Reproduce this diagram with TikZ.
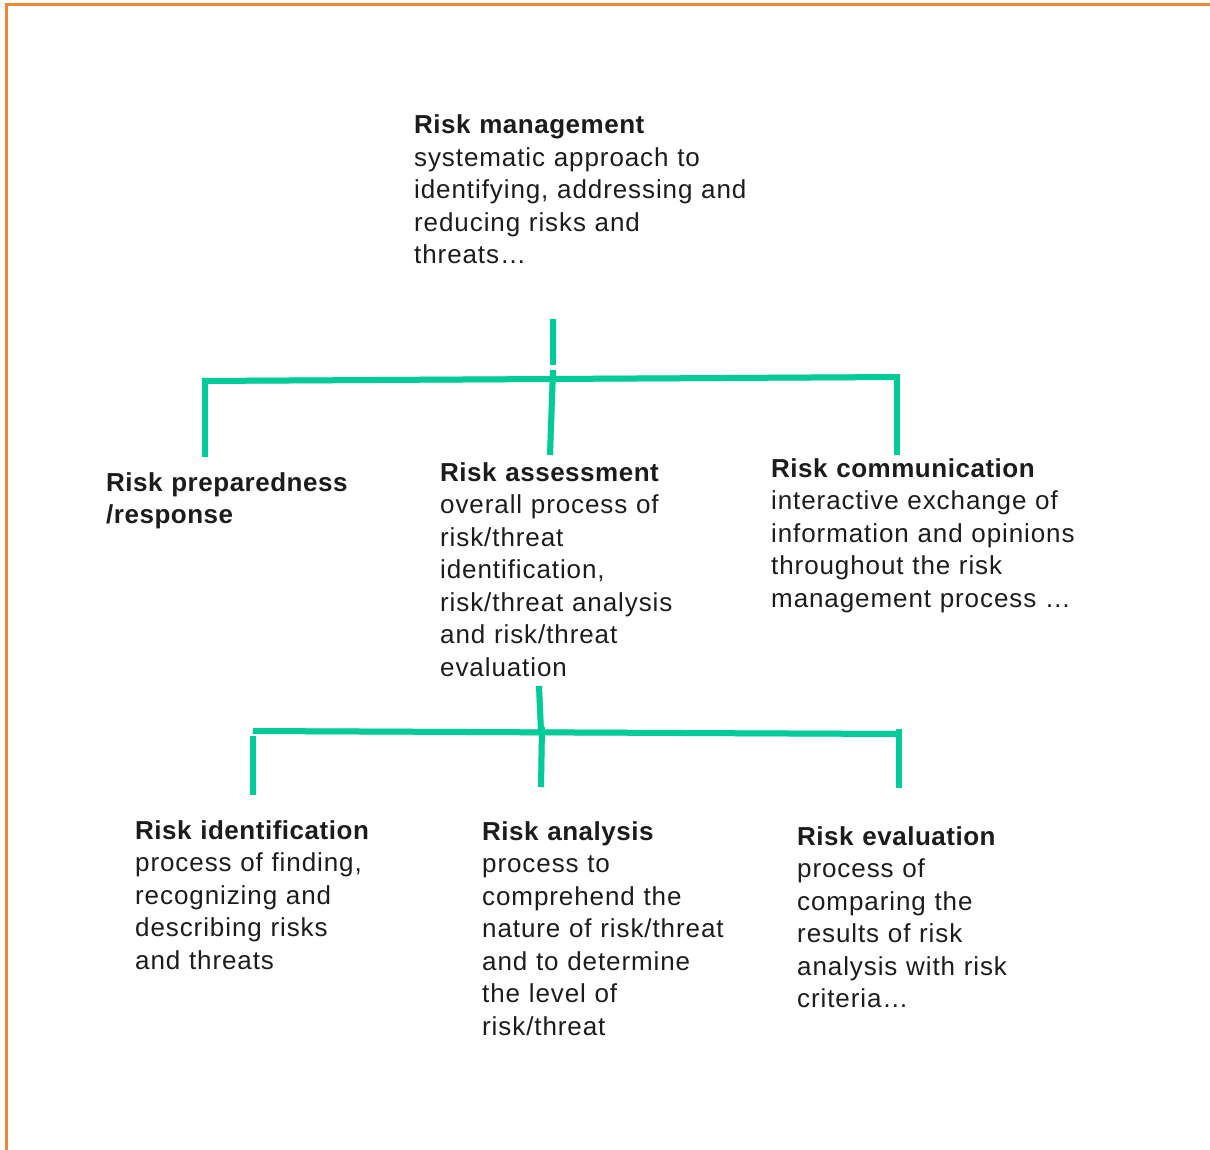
\documentclass[tikz,border=0pt]{standalone}
\usepackage{fontspec}
\setmainfont{Liberation Sans}[LetterSpace=3.5,WordSpace=0.6,BoldFeatures={LetterSpace=2}]
\definecolor{frameorange}{RGB}{242,133,52}
\definecolor{linegreen}{RGB}{0,204,153}
\definecolor{textdark}{RGB}{30,27,28}
\tikzset{
  framestroke/.style={draw=frameorange,line width=3pt},
  treeline/.style={draw=linegreen,line width=6pt,line cap=butt},
  treeshadow/.style={draw=black,opacity=0.18,line width=6pt,line cap=butt,shift={(1.5pt,-3pt)}},
  txt/.style={anchor=base west,inner sep=0pt,text width=460pt,align=left,text=textdark,
    font=\fontsize{26}{32.5}\selectfont}
}
\begin{document}
\begin{tikzpicture}[x=1pt,y=-1pt]
\useasboundingbox (0,0) rectangle (1210,1150);
% frame
\draw[framestroke] (5,4.5) -- (1210,4.5);
\draw[framestroke] (6.5,3) -- (6.5,1150);
% coordinates of the tree lines
\coordinate (s1a) at (552.5,319); \coordinate (s1b) at (552.5,365);
\coordinate (h1a) at (202,381);   \coordinate (h1b) at (898,377);
\coordinate (d1a) at (205,378);   \coordinate (d1b) at (205,457);
\coordinate (d2a) at (553,370);   \coordinate (d2b) at (550,455);
\coordinate (d3a) at (897,374);   \coordinate (d3b) at (897,455);
\coordinate (s2a) at (539,686);   \coordinate (s2b) at (541,731);
\coordinate (h2a) at (253,731);   \coordinate (h2b) at (897,734);
\coordinate (e1a) at (253,736);   \coordinate (e1b) at (253,795);
\coordinate (e2a) at (542,727);   \coordinate (e2b) at (541,787);
\coordinate (e3a) at (899,729);   \coordinate (e3b) at (899,788);
% shadows
\foreach \a/\b in {s1a/s1b,h1a/h1b,d1a/d1b,d2a/d2b,d3a/d3b,s2a/s2b,h2a/h2b,e1a/e1b,e2a/e2b,e3a/e3b}
  \draw[treeshadow] (\a) -- (\b);
% lines
\foreach \a/\b in {s1a/s1b,h1a/h1b,d1a/d1b,d2a/d2b,d3a/d3b,s2a/s2b,h2a/h2b,e1a/e1b,e2a/e2b,e3a/e3b}
  \draw[treeline] (\a) -- (\b);
% texts
\node[txt] (mgmt) at (414,134) {\textbf{Risk management}\\systematic approach to\\identifying, addressing and\\reducing risks and\\threats\ldots};
\node[txt] (prep) at (106,491) {\textbf{Risk preparedness}\\\textbf{/response}};
\node[txt] (assess) at (440,481) {\textbf{Risk assessment}\\overall process of\\risk/threat\\identification,\\risk/threat analysis\\and risk/threat\\evaluation};
\node[txt] (comm) at (771,477) {\textbf{Risk communication}\\interactive exchange of\\information and opinions\\throughout the risk\\management process \ldots};
\node[txt] (ident) at (135,839) {\textbf{Risk identification}\\process of finding,\\recognizing and\\describing risks\\and threats};
\node[txt] (anal) at (482,840) {\textbf{Risk analysis}\\process to\\comprehend the\\nature of risk/threat\\and to determine\\the level of\\risk/threat};
\node[txt] (eval) at (797,845) {\textbf{Risk evaluation}\\process of\\comparing the\\results of risk\\analysis with risk\\criteria\ldots};
\end{tikzpicture}
\end{document}
